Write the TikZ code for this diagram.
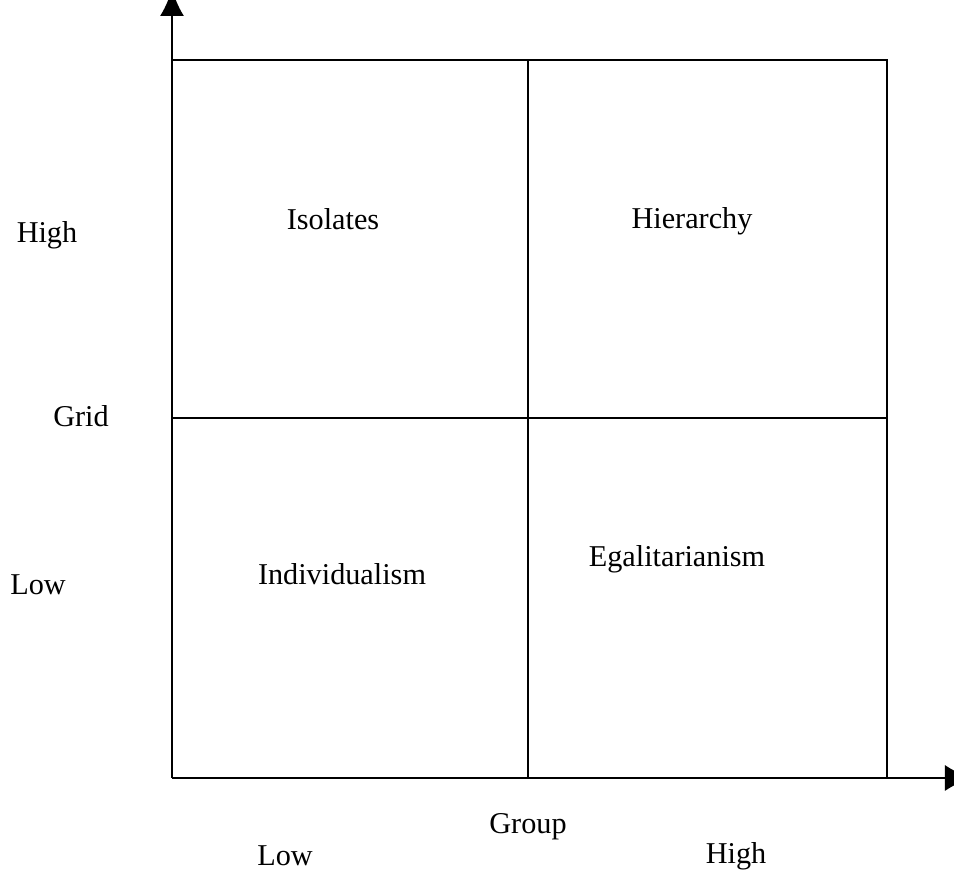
\documentclass[tikz,border=0pt]{standalone}
\usepackage{fontspec}
\setmainfont{Liberation Serif}
\usetikzlibrary{arrows.meta}

\begin{document}
\begin{tikzpicture}[x = 0.01cm, y = -0.01cm, line width = 0.6pt,
        lbl/.style = {font = \fontsize{8.6}{10}\selectfont, inner sep = 0pt}]
        \useasboundingbox (0,0) rectangle (954,871);
        \clip (0,0) rectangle (954,871);
        \coordinate (o) at (172,778);
        \coordinate (ytop) at (172,-11);
        \coordinate (xend) at (972,778);
        \coordinate (tl) at (172,60);
        \coordinate (tm) at (528,60);
        \coordinate (tr) at (887,60);
        \coordinate (ml) at (172,418);
        \coordinate (mr) at (887,418);
        \coordinate (bm) at (528,778);
        \coordinate (br) at (887,778);
        % axes
        \draw[-{Latex[length = 0.27cm, width = 0.24cm]}] (o) -- (ytop);
        \draw[-{Latex[length = 0.27cm, width = 0.26cm]}] (o) -- (xend);
        % quadrants
        \draw (tl) -- (tr) -- (br);
        \draw (tm) -- (bm);
        \draw (ml) -- (mr);
        \node[lbl] (isol) at (333,219) {Isolates};
        \node[lbl] (hier) at (692,221) {Hierarchy};
        \node[lbl] (indiv) at (342,574) {Individualism};
        \node[lbl] (egal) at (677,559) {Egalitarianism};
        % grid axis
        \node[lbl] (ghigh) at (47,235) {High};
        \node[lbl] (grid) at (81,416) {Grid};
        \node[lbl] (glow) at (38,585) {Low};
        % group axis
        \node[lbl] (group) at (528,827) {Group};
        \node[lbl] (xlow) at (285,856) {Low};
        \node[lbl] (xhigh) at (736,856) {High};
    \end{tikzpicture}
\end{document}
